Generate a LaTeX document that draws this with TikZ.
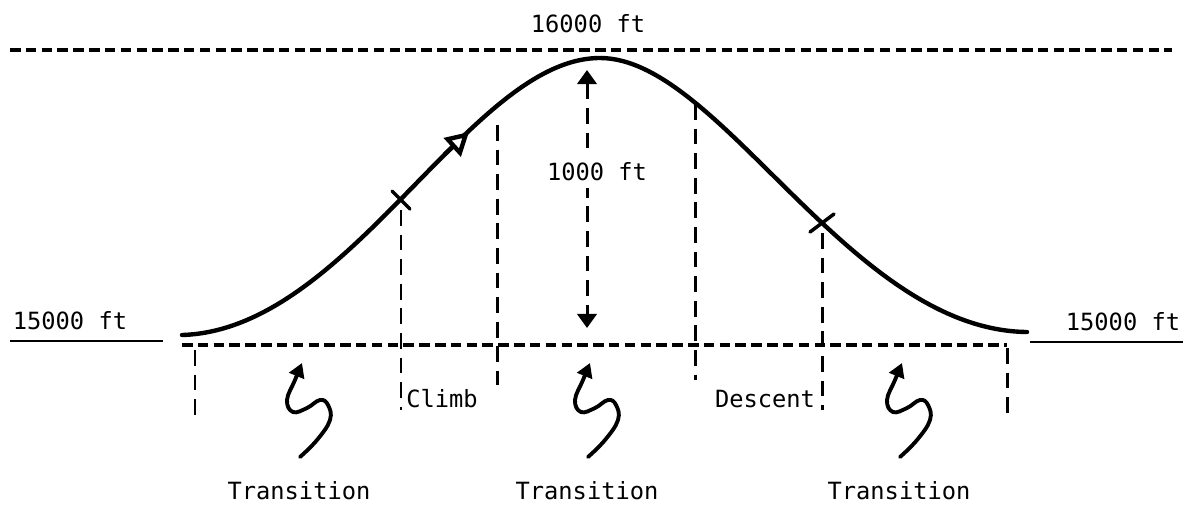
\documentclass[tikz,border=0pt]{standalone}
\usepackage{fontspec}
\setmonofont{DejaVu Sans Mono}
\usetikzlibrary{arrows.meta}

\tikzset{
  level/.style={line width=1.8pt, dash pattern=on 6pt off 3pt},
  guide/.style={line width=1.7pt, dash pattern=on 9pt off 5pt},
  profile/.style={line width=2.5pt, line cap=round, line join=round},
  tick/.style={line width=2pt, line cap=round},
  squig/.style={line width=2.2pt, line cap=round, -{Triangle[length=8pt,width=9pt]}},
  lbl/.style={font=\ttfamily\fontsize{13.5}{16}\selectfont, inner sep=1pt},
}

\begin{document}
\begin{tikzpicture}[x=0.02cm, y=-0.02cm]
            \useasboundingbox (0,0) rectangle (1183,505);
            % Altitude levels
            \coordinate (topL) at (10,50);
            \coordinate (topR) at (1172,50);
            \coordinate (baseL) at (182,345);
            \coordinate (baseR) at (1007,345);
            \draw[level] (topL) -- (topR);
            \draw[level] (baseL) -- (baseR);
            \node[lbl] (high) at (588,24) {16000 ft};
            \node[lbl] (lowL) at (70,321) {15000 ft};
            \node[lbl] (lowR) at (1123,322) {15000 ft};
            \draw[line width=1.2pt] (10,341) -- (163,341);
            \draw[line width=1.2pt] (1030,342) -- (1183,342);

            % Flight profile
            \coordinate (start) at (182,335);
            \coordinate (top) at (600,58);
            \coordinate (end) at (1027,332);
            \draw[profile] (start) .. controls (350,330) and (470,58) .. (top)
              .. controls (720,58) and (850,330) .. (end);
            \draw[profile, -{Triangle[length=13pt,width=14pt,fill=white]}]
              (445,154) -- (469,132);
            \coordinate (climbX) at (401,200);
            \coordinate (descX) at (822,223);
            \draw[tick] (392,191) -- (410,209);
            \draw[tick] (810,232) -- (834,214);

            % Segment boundaries
            \draw[guide] (195,350) -- (195,415);
            \draw[guide] (climbX) ++(0,10) -- (401,410);
            \draw[guide] (497,125) -- (497,385);
            \draw[guide] (695,104) -- (695,380);
            \draw[guide] (descX) ++(0,10) -- (822,410);
            \draw[guide] (1007,348) -- (1007,418);

            % Height difference
            \coordinate (peak) at (587,70);
            \coordinate (floor) at (587,328);
            \draw[guide, {Triangle[length=8pt,width=11pt]}-{Triangle[length=8pt,width=11pt]}]
              (peak) -- (floor);
            \node[lbl, fill=white, inner sep=4pt] (rise) at (597,172) {1000 ft};

            \node[lbl] (climb) at (442,399) {Climb};
            \node[lbl] (descent) at (765,399) {Descent};

            % Transition arrows
            \foreach \dx/\name in {0/transA, 288/transB, 600/transC} {
              \draw[squig, shift={(\dx,0)}] plot[smooth, tension=0.7] coordinates {
                (300,457) (317,440) (330,420) (328,405) (320,400) (307,408)
                (293,412) (287,400) (295,380) (302,363)};
              \node[lbl] (\name) at (299+\dx,491) {Transition};
            }
        \end{tikzpicture}
\end{document}
